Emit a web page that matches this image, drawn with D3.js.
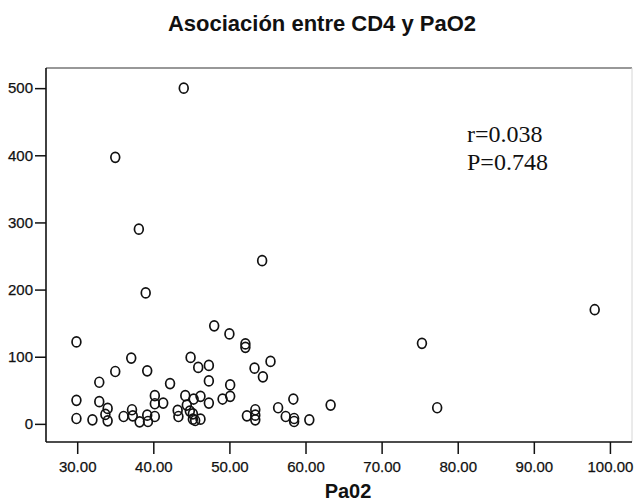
<!DOCTYPE html>
<html>
<head>
<meta charset="utf-8">
<script src="https://cdn.jsdelivr.net/npm/d3@7"></script>
<style>
  html, body { margin: 0; padding: 0; background: #fff; }
  svg { display: block; }
</style>
</head>
<body>
<script>
// ---- Data ----
const pao2 = [29.9, 29.9, 29.9, 32, 32.9, 32.9, 33.7, 34, 34, 35, 35, 36.1, 37.1, 37.2, 37.3, 38.1, 38.2,
  39, 39.2, 39.2, 39.3, 40.2, 40.2, 40.2, 41.3, 42.2, 43.2, 43.3, 44, 44.2, 44.4, 44.8, 44.9, 45.3, 45.2,
  45.2, 45.5, 45.9, 46.2, 46.2, 47.3, 47.3, 47.3, 48, 49.1, 50, 50.1, 50.1, 52.1, 52.1, 52.3, 53.3, 53.4,
  53.4, 53.4, 54.3, 54.4, 55.4, 56.4, 57.4, 58.4, 58.5, 58.5, 60.5, 63.3, 75.3, 77.3, 98];
const cd4 = [122, 35, 8, 6, 62, 33, 14, 23, 4.5, 78, 397, 11, 98, 21, 12, 290, 3,
  195, 79, 13, 3.5, 42, 30, 11, 31, 60, 20, 11, 500, 42, 28, 19, 99, 37, 15,
  7, 5, 84, 41, 7, 87, 64, 31, 146, 37, 134, 58, 41, 119, 114, 12, 83, 21,
  13, 6, 243, 70, 93, 24, 11, 37, 8, 3.5, 6, 28, 120, 24, 170];
const xTicks = [30, 40, 50, 60, 70, 80, 90, 100];
const yTicks = [0, 100, 200, 300, 400, 500];
const titleText = "Asociación entre CD4 y PaO2";
const xLabel = "Pa02";
const statLines = ["r=0.038", "P=0.748"];

// ---- Layout ----
const W = 635, H = 502;
const plot = { left: 46, right: 632, top: 68, bottom: 442 };

const svg = d3.select("body").append("svg").attr("width", W).attr("height", H);

const x = d3.scaleLinear().domain([25.9, 102.9]).range([plot.left, plot.right]);
const y = d3.scaleLinear().domain([-27, 530]).range([plot.bottom, plot.top]);

// title
svg.append("text")
  .attr("x", 322).attr("y", 31)
  .attr("text-anchor", "middle")
  .attr("font-family", "Liberation Sans, Arial, sans-serif")
  .attr("font-weight", "bold").attr("font-size", 22)
  .attr("fill", "#111")
  .text(titleText);

// frame (top and right)
svg.append("line").attr("x1", plot.left).attr("x2", plot.right)
  .attr("y1", plot.top).attr("y2", plot.top)
  .attr("stroke", "#333").attr("stroke-width", 1.2);
svg.append("line").attr("x1", plot.right).attr("x2", plot.right)
  .attr("y1", plot.top).attr("y2", plot.bottom)
  .attr("stroke", "#d6d6d6").attr("stroke-width", 1);

// axes
const yAxis = d3.axisLeft(y).tickValues(yTicks).tickFormat(d3.format("d"))
  .tickSize(11).tickPadding(2).tickSizeOuter(0);
const gy = svg.append("g").attr("transform", `translate(${plot.left},0)`).call(yAxis);

const xAxis = d3.axisBottom(x).tickValues(xTicks).tickFormat(d3.format(".2f"))
  .tickSize(12).tickPadding(7).tickSizeOuter(0);
const gx = svg.append("g").attr("transform", `translate(0,${plot.bottom})`).call(xAxis);

[gx, gy].forEach(g => {
  g.select(".domain").attr("stroke", "#111").attr("stroke-width", 1.6);
  g.selectAll(".tick line").attr("stroke", "#111").attr("stroke-width", 1.5);
  g.selectAll(".tick text")
    .attr("font-family", "Liberation Sans, Arial, sans-serif")
    .attr("font-size", 15).attr("fill", "#111")
    .attr("stroke", "#111").attr("stroke-width", 0.25);
});
gy.select(".domain").attr("d", `M0,${plot.top}V${plot.bottom}`);
gx.select(".domain").attr("d", `M${plot.left},0H${plot.right}`);

// x axis title
svg.append("text")
  .attr("x", 348).attr("y", 498)
  .attr("text-anchor", "middle")
  .attr("font-family", "Liberation Sans, Arial, sans-serif")
  .attr("font-weight", "bold").attr("font-size", 20)
  .attr("fill", "#111")
  .text(xLabel);

// annotation
svg.append("g").selectAll("text").data(statLines).join("text")
  .attr("x", 467).attr("y", (d, i) => 142 + i * 28)
  .attr("font-family", "Liberation Serif, Times New Roman, serif")
  .attr("font-size", 24).attr("fill", "#111")
  .text(d => d);

// points
const pts = pao2.map((v, i) => ({ x: v, y: cd4[i] }));
svg.append("g").selectAll("ellipse").data(pts).join("ellipse")
  .attr("cx", d => x(d.x)).attr("cy", d => y(d.y))
  .attr("rx", 4.4).attr("ry", 5)
  .attr("fill", "none").attr("stroke", "#111").attr("stroke-width", 1.7);
</script>
</body>
</html>
